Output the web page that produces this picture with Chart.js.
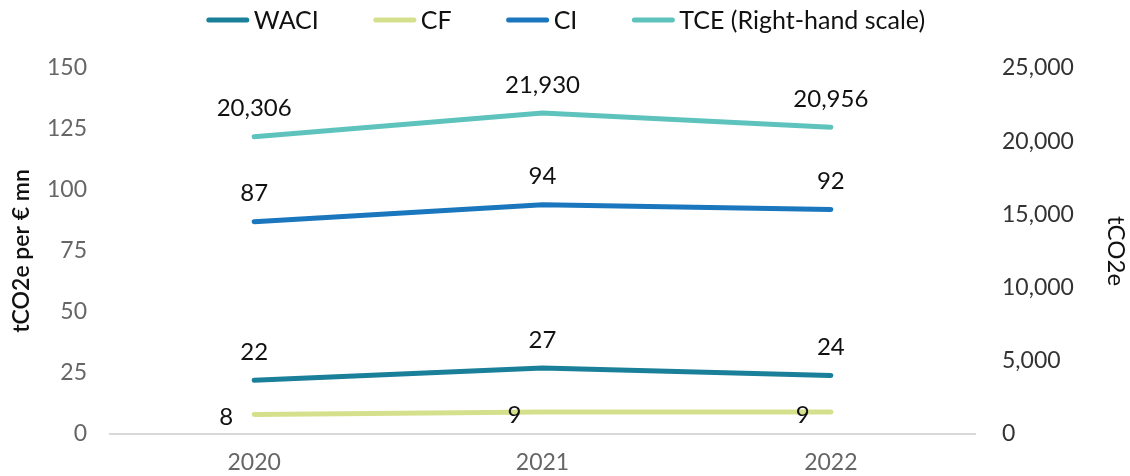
<!DOCTYPE html>
<html>
<head>
<meta charset="utf-8">
<script src="https://cdn.jsdelivr.net/npm/chart.js@4"></script>
<style>
  html, body { margin: 0; padding: 0; background: #fff; }
  #wrap { width: 1130px; height: 476px; }
</style>
</head>
<body>
<div id="wrap"><canvas id="chart" width="1130" height="476"></canvas></div>
<script>
// ------- Data -------
const years = ['2020', '2021', '2022'];
const waci = [22, 27, 24];
const cf = [8, 9, 9];
const ci = [87, 94, 92];
const tce = [20306, 21930, 20956];
const leftTicks = [0, 25, 50, 75, 100, 125, 150];
const rightTicks = [0, 5000, 10000, 15000, 20000, 25000];

const FONT = 'Lato, "Open Sans", sans-serif';

// value labels next to each point
const valueLabels = {
  id: 'valueLabels',
  afterDatasetsDraw(chart) {
    const ctx = chart.ctx;
    ctx.save();
    ctx.font = '24px ' + FONT;
    ctx.fillStyle = '#111';
    ctx.textBaseline = 'middle';
    chart.data.datasets.forEach((ds, i) => {
      const meta = chart.getDatasetMeta(i);
      meta.data.forEach((pt, j) => {
        const text = ds.data[j].toLocaleString('en-US');
        ctx.textAlign = ds.labelAlign || 'center';
        ctx.fillText(text, pt.x + (ds.labelDx || 0), pt.y + (ds.labelDy || 0));
      });
    });
    ctx.restore();
  }
};

// legend at the top with line samples (Excel style spacing)
const lineLegend = {
  id: 'lineLegend',
  afterDraw(chart) {
    const ctx = chart.ctx;
    const sw = 42, gapText = 5, gapItem = 55, cy = 20;
    ctx.save();
    ctx.font = '25px ' + FONT;
    ctx.textBaseline = 'middle';
    ctx.textAlign = 'left';
    const items = chart.data.datasets.map(ds => ({ ds, w: ctx.measureText(ds.label).width }));
    const total = items.reduce((a, it) => a + sw + gapText + it.w, 0) + gapItem * (items.length - 1);
    let x = 566 - total / 2;
    items.forEach(it => {
      ctx.strokeStyle = it.ds.borderColor;
      ctx.lineWidth = 5;
      ctx.lineCap = 'round';
      ctx.beginPath();
      ctx.moveTo(x + 2, cy);
      ctx.lineTo(x + sw - 2, cy);
      ctx.stroke();
      ctx.fillStyle = '#111';
      ctx.fillText(it.ds.label, x + sw + gapText, cy + 1);
      x += sw + gapText + it.w + gapItem;
    });
    ctx.restore();
  }
};

const ctx = document.getElementById('chart').getContext('2d');

new Chart(ctx, {
  type: 'line',
  data: {
    labels: years,
    datasets: [
      { label: 'WACI', data: waci, borderColor: '#1a7f98', backgroundColor: '#1a7f98', yAxisID: 'y', labelDy: -28 },
      { label: 'CF', data: cf, borderColor: '#d5e08d', backgroundColor: '#d5e08d', yAxisID: 'y', labelDx: -28, labelDy: 3 },
      { label: 'CI', data: ci, borderColor: '#1a76bd', backgroundColor: '#1a76bd', yAxisID: 'y', labelDy: -28 },
      { label: 'TCE (Right-hand scale)', data: tce, borderColor: '#5ec3bd', backgroundColor: '#5ec3bd', yAxisID: 'y1', labelDy: -28 }
    ]
  },
  options: {
    responsive: false,
    animation: false,
    layout: { padding: { top: 68, left: 0, right: 0, bottom: 0 } },
    elements: {
      line: { borderWidth: 5, tension: 0, borderCapStyle: 'round' },
      point: { radius: 0, hoverRadius: 0 }
    },
    plugins: {
      legend: { display: false },
      tooltip: { enabled: false }
    },
    scales: {
      x: {
        offset: true,
        afterFit: s => { s.height = 42; },
        grid: { display: false, drawTicks: false },
        border: { display: true, color: '#d9d9d9', width: 2 },
        ticks: { color: '#666', padding: 15, font: { family: FONT, size: 23 } }
      },
      y: {
        position: 'left',
        min: 0, max: 150,
        afterBuildTicks: s => { s.ticks = leftTicks.map(v => ({ value: v })); },
        afterFit: s => { s.width = 110; },
        grid: { display: false, drawTicks: false },
        border: { display: false },
        ticks: { color: '#666', padding: 23, font: { family: FONT, size: 23 } },
        title: { display: true, text: 'tCO2e per € mn', color: '#111', padding: { top: 8, bottom: 0 }, font: { family: FONT, size: 23, weight: '600' } }
      },
      y1: {
        position: 'right',
        min: 0, max: 25000,
        afterBuildTicks: s => { s.ticks = rightTicks.map(v => ({ value: v })); },
        afterFit: s => { s.width = 155; },
        grid: { display: false, drawTicks: false },
        border: { display: false },
        ticks: { color: '#333', padding: 27, font: { family: FONT, size: 23 }, callback: v => v.toLocaleString('en-US') },
        title: { display: true, text: 'tCO2e', color: '#111', padding: 0, font: { family: FONT, size: 24 } }
      }
    }
  },
  plugins: [valueLabels, lineLegend]
});
</script>
</body>
</html>
